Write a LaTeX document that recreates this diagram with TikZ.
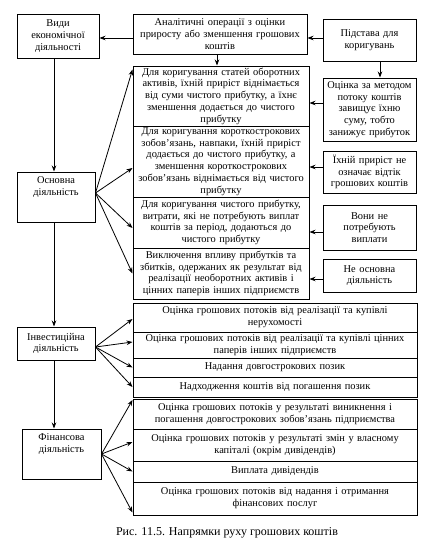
\documentclass[tikz,border=0pt]{standalone}
\usepackage{fontspec}
\setmainfont[Ligatures=TeX]{Liberation Serif}
\usetikzlibrary{arrows.meta}
\begin{document}
\begin{tikzpicture}[x=1pt,y=-1pt,
  bx/.style={draw, line width=1pt, inner sep=0.5pt, align=center, font=\fontsize{10.4}{11.7}\selectfont},
  tx/.style={inner sep=1pt, align=center, font=\fontsize{10.4}{11.7}\selectfont},
  cw/.style={minimum width=176pt, text width=174pt},
  rw/.style={minimum width=93pt, text width=91pt},
  ww/.style={minimum width=284pt, text width=282pt},
  arr/.style={line width=0.8pt, -{Stealth[length=6pt,width=4.5pt]}}]
\useasboundingbox[fill=white] (0,0) rectangle (428,544);

% top row
\node[bx, minimum width=82pt, minimum height=44pt, text width=80pt] (vyd) at (58,36) {Види\\економічної\\діяльності};
\node[bx, minimum width=174pt, minimum height=40pt, text width=172pt] (anal) at (220,34) {Аналітичні операції з оцінки\\приросту або зменшення грошових\\коштів};
\node[bx, rw, minimum height=42pt] (pids) at (369.5,40) {Підстава для\\коригувань};

% main column
\node[bx, cw, minimum height=60pt] (A) at (221,96) {Для коригування статей оборотних\\активів, їхній приріст віднімається\\від суми чистого прибутку, а їхнє\\зменшення додається до чистого\\прибутку};
\node[bx, cw, minimum height=71pt] (B) at (221,161.5) {Для коригування короткострокових\\зобов’язань, навпаки, їхній приріст\\додається до чистого прибутку, а\\зменшення короткострокових\\зобов’язань віднімається від чистого\\прибутку};
\node[bx, cw, minimum height=51pt] (C) at (221,222.5) {Для коригування чистого прибутку,\\витрати, які не потребують виплат\\коштів за період, додаються до\\чистого прибутку};
\node[bx, cw, minimum height=51pt] (D) at (221,273.5) {Виключення впливу прибутків та\\збитків, одержаних як результат від\\реалізації необоротних активів і\\цінних паперів інших підприємств};

% right column
\node[bx, rw, minimum height=63pt] (otsin) at (369.5,109.5) {Оцінка за методом\\потоку коштів\\завищує їхню\\суму, тобто\\занижує прибуток};
\node[bx, rw, minimum height=42pt] (R2) at (369.5,172) {Їхній приріст не\\означає відтік\\грошових коштів};
\node[bx, rw, minimum height=45pt] (R3) at (369.5,227.5) {Вони не\\потребують\\виплати};
\node[bx, rw, minimum height=33pt] (R4) at (369.5,275.5) {Не основна\\діяльність};

% left column
\node[bx, minimum width=78pt, minimum height=50pt] (osn) at (56,197) {};
\node[tx, anchor=north] (osnT) at ([yshift=-4pt]osn.north) {Основна\\діяльність};
\node[bx, minimum width=78pt, minimum height=33pt, text width=76pt] (inv) at (56,343.5) {Інвестиційна\\діяльність};
\node[bx, minimum width=79pt, minimum height=50pt] (fin) at (61.5,454) {};
\node[tx, anchor=north] (finT) at ([yshift=-4pt]fin.north) {Фінансова\\діяльність};

% investment boxes
\node[bx, ww, minimum height=29pt] (I1) at (275,317.5) {Оцінка грошових потоків від реалізації та купівлі\\нерухомості};
\node[bx, ww, minimum height=26pt] (I2) at (275,345) {Оцінка грошових потоків від реалізації та купівлі цінних\\паперів інших підприємств};
\node[bx, ww, minimum height=19pt] (I3) at (275,367.5) {Надання довгострокових позик};
\node[bx, ww, minimum height=20pt] (I4) at (275,387) {Надходження коштів від погашення позик};

% financial boxes
\node[bx, ww, minimum height=30pt] (F1) at (275,414) {Оцінка грошових потоків у результаті виникнення і\\погашення довгострокових зобов’язань підприємства};
\node[bx, ww, minimum height=32pt] (F2) at (275,445) {Оцінка грошових потоків у результаті змін у власному\\капіталі (окрім дивідендів)};
\node[bx, ww, minimum height=21pt] (F3) at (275,471.5) {Виплата дивідендів};
\node[bx, ww, minimum height=33pt] (F4) at (275,498.5) {Оцінка грошових потоків від надання і отримання\\фінансових послуг};

% caption
\node[font=\fontsize{12}{14}\selectfont, inner sep=0pt] (cap) at (227,533) {Рис. 11.5. Напрямки руху грошових коштів};

% helper coordinates
\coordinate (c1) at ([yshift=-4pt]anal.west);
\coordinate (c2) at ([yshift=2pt]pids.west);
\coordinate (c3) at ([xshift=-3pt]anal.south);
\coordinate (c4) at ([xshift=10.5pt]pids.south);
\coordinate (c5) at ([yshift=6.5pt]otsin.west);
\coordinate (c6) at ([yshift=5pt]R2.west);
\coordinate (c7) at ([yshift=-4.5pt]R3.west);
\coordinate (c8) at ([yshift=-3.5pt]R4.west);
\coordinate (v1) at ([xshift=-4pt]vyd.south);
\coordinate (v2) at ([xshift=-2pt]osn.south);
\coordinate (v3) at ([xshift=-2pt]inv.south);
\coordinate (oo) at ([yshift=4pt]osn.east);
\coordinate (io) at ([yshift=-3.5pt]inv.east);

% horizontal / vertical arrows
\draw[arr] (c1) -- (c1 -| vyd.east);
\draw[arr] (c2) -- (c2 -| anal.east);
\draw[arr] (c3) -- (c3 |- A.north);
\draw[arr] (c4) -- (c4 |- otsin.north);
\draw[arr] (c5) -- (c5 -| A.east);
\draw[arr] (c6) -- (c6 -| B.east);
\draw[arr] (c7) -- (c7 -| C.east);
\draw[arr] (c8) -- (c8 -| D.east);
\draw[arr] (v1) -- (v1 |- osn.north);
\draw[arr] (v2) -- (v2 |- inv.north);
\draw[arr] (v3) -- (v3 |- fin.north);

% fans
\draw[arr] (oo) -- ([yshift=-4pt]A.north west);
\draw[arr] (oo) -- ([yshift=-6.5pt]B.west);
\draw[arr] (oo) -- ([yshift=-5.5pt]C.west);
\draw[arr] (oo) -- (D.west);

\draw[arr] (io) -- ([yshift=-1.5pt]I1.west);
\draw[arr] (io) -- ([yshift=3pt]I2.west);
\draw[arr] (io) -- (I3.west);
\draw[arr] (io) -- (I4.west);

\draw[arr] (fin.east) -- ([yshift=-1.5pt]F1.north west);
\draw[arr] (fin.east) -- ([yshift=3pt]F2.west);
\draw[arr] (fin.east) -- (F3.west);
\draw[arr] (fin.east) -- ([yshift=3pt]F4.south west);
\end{tikzpicture}
\end{document}
